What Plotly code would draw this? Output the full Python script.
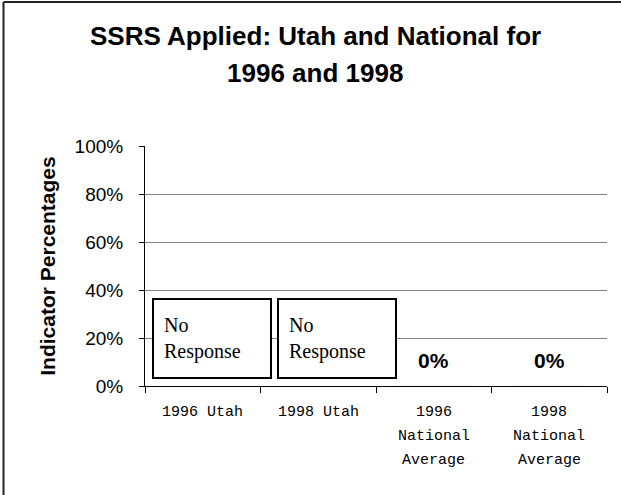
import plotly.graph_objects as go

categories = ["1996 Utah", "1998 Utah", "1996 National Average", "1998 National Average"]
category_lines = [["1996 Utah"], ["1998 Utah"], ["1996", "National", "Average"], ["1998", "National", "Average"]]
values = [None, None, 0.0, 0.0]
value_labels = ["No<br>Response", "No<br>Response", "0%", "0%"]
title_lines = ["SSRS Applied: Utah and National for", "1996 and 1998"]
y_title = "Indicator Percentages"

W, H = 621, 495
L, R, T, B = 145, 14, 146, 109
pw, ph = W - L - R, H - T - B

fig = go.Figure()
fig.add_trace(go.Bar(x=categories, y=values, marker_color="#9999ff", width=0.6, showlegend=False))

ann = []
# title lines
title_y = [36.5, 73]
for i, t in enumerate(title_lines):
    ann.append(dict(text="<b>%s</b>" % t, xref="paper", yref="paper", x=(315 - L) / pw,
                    y=1 + (T - title_y[i]) / ph, xanchor="center", yanchor="middle",
                    showarrow=False, font=dict(family="Liberation Sans, Arial", size=26, color="black")))

# category labels
for c, lines in zip(categories, category_lines):
    for j, ln in enumerate(lines):
        ann.append(dict(text=ln, xref="x", yref="paper", x=c, y=0, yanchor="middle",
                        yshift=-(412 - 386) - 24 * j, showarrow=False,
                        font=dict(family="Liberation Mono, Courier New", size=15, color="black")))

# value labels
shifts = [9.5, 18.5]
for k, (c, v, lab) in enumerate(zip(categories, values, value_labels)):
    if v is None:
        ann.append(dict(text=lab, xref="x", yref="y", x=c, y=0.197, xshift=shifts[k],
                        xanchor="center", yanchor="middle", showarrow=False, align="left",
                        width=96, height=57, borderpad=10, bordercolor="black", borderwidth=2,
                        bgcolor="white",
                        font=dict(family="Liberation Serif, Times New Roman", size=20, color="black")))
    else:
        ann.append(dict(text="<b>%s</b>" % lab, xref="x", yref="y", x=c, y=v, yanchor="middle",
                        yshift=26, showarrow=False,
                        font=dict(family="Liberation Sans, Arial", size=21, color="black")))

bx0 = (3.5 - L) / pw
bx1 = (W - L) / pw
by1 = 1 + (T - 2) / ph
by0 = -B / ph
fig.update_layout(
    width=W, height=H, margin=dict(l=L, r=R, t=T, b=B, pad=0),
    paper_bgcolor="white", plot_bgcolor="white",
    annotations=ann,
    shapes=[
        dict(type="line", xref="paper", yref="paper", x0=bx0, x1=bx0, y0=by0, y1=by1,
             line=dict(color="#222222", width=2), layer="below"),
        dict(type="line", xref="paper", yref="paper", x0=bx0, x1=bx1, y0=by1, y1=by1,
             line=dict(color="#222222", width=2), layer="below"),
    ],
    xaxis=dict(range=[-0.5, 3.5], showticklabels=False, showline=True, linecolor="black", linewidth=1,
               ticks="outside", ticklen=6, tickcolor="black", tickson="boundaries", showgrid=False),
    yaxis=dict(range=[0, 1], dtick=0.2, tickformat=".0%", showline=True, linecolor="black", linewidth=1,
               ticks="outside", ticklen=5, tickcolor="black", showgrid=True, gridcolor="#808080",
               gridwidth=1, zeroline=False, ticklabelstandoff=12,
               tickfont=dict(family="Liberation Sans, Arial", size=19, color="black"),
               title=dict(text="<b>%s</b>" % y_title, standoff=13,
                          font=dict(family="Liberation Sans, Arial", size=21, color="black"))),
)
fig.write_html("out.html", config={"displayModeBar": False},
               post_script="document.body.style.margin='0px';document.body.style.overflow='hidden';"
                           "document.documentElement.style.overflow='hidden';")
